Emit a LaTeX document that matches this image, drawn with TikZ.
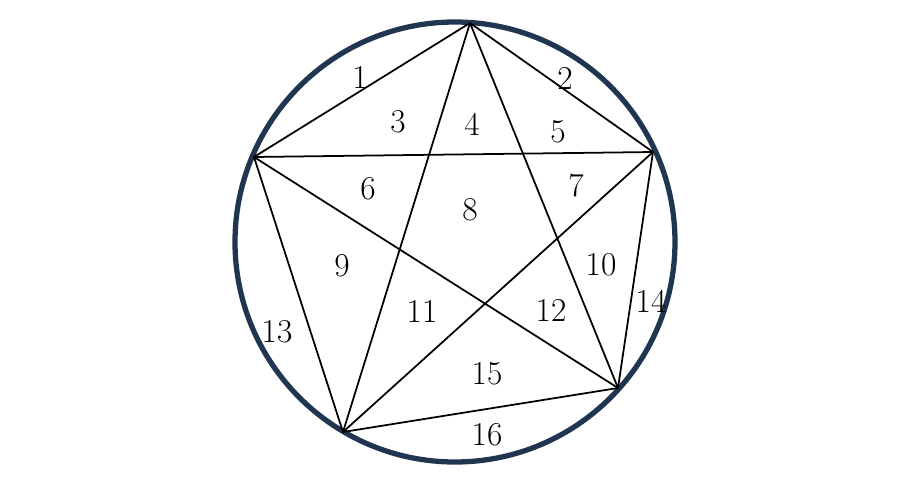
\documentclass[tikz,border=0pt]{standalone}
\usepackage{xcolor}
\usepackage{tikz}
\definecolor{ring}{HTML}{203550}
\definecolor{edge}{HTML}{000000}
\tikzset{
  rim/.style={draw=ring, line width=3pt},
  chord/.style={draw=edge, line width=1pt, line join=round},
  num/.style={text=edge, font=\fontsize{19}{21}\selectfont, inner sep=0pt},
}
\begin{document}
\begin{tikzpicture}[x=0.02cm,y=-0.02cm]
  \useasboundingbox (0,0) rectangle (910,490);
  \coordinate (O) at (455,242);
  \coordinate (T) at (470,23);
  \coordinate (R) at (653,152);
  \coordinate (BR) at (618,388);
  \coordinate (BL) at (343,432);
  \coordinate (L) at (254,157);

  \draw[rim] (O) circle[radius=220];

  % outer pentagon
  \draw[chord] (T)--(R)--(BR)--(BL)--(L)--cycle;
  % star
  \draw[chord] (T)--(BR);
  \draw[chord] (T)--(BL);
  \draw[chord] (L)--(R);
  \draw[chord] (L)--(BR);
  \draw[chord] (R)--(BL);

  \node[num] (n1) at (360,77) {1};
  \node[num] (n2) at (565,78) {2};
  \node[num] (n3) at (398,122) {3};
  \node[num] (n4) at (472,124) {4};
  \node[num] (n5) at (558,132) {5};
  \node[num] (n6) at (368,189) {6};
  \node[num] (n7) at (576,185) {7};
  \node[num] (n8) at (470,210) {8};
  \node[num] (n9) at (342,266) {9};
  \node[num] (n10) at (601,265) {10};
  \node[num] (n11) at (422,311) {11};
  \node[num] (n12) at (551,310) {12};
  \node[num] (n13) at (277,332) {13};
  \node[num] (n14) at (651,301) {14};
  \node[num] (n15) at (487,374) {15};
  \node[num] (n16) at (487,435) {16};
\end{tikzpicture}
\end{document}
